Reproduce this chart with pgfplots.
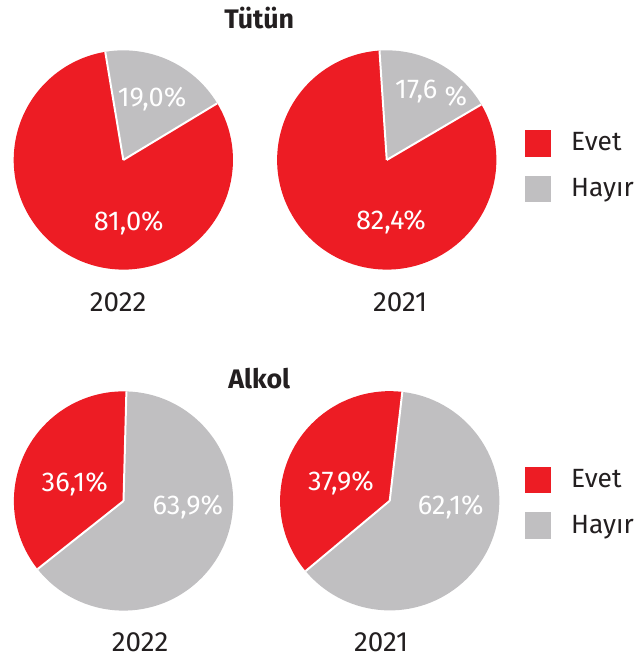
\documentclass[border=0pt]{standalone}
\usepackage{fontspec}
\setmainfont{Fira Sans}
\usepackage{pgfplots}
\pgfplotsset{compat=1.18}
\definecolor{redc}{HTML}{ED1C24}
\definecolor{grayc}{HTML}{C0BFC1}
\definecolor{textc}{HTML}{231F20}
\newcommand\R{55.25pt}
% slice: colour, start angle, percentage (drawn clockwise)
\newcommand{\slice}[3]{\fill[#1] (axis cs:0,0) -- ++(#2:\R) arc[start angle=#2, end angle={#2-3.6*#3}, radius=\R] -- cycle;}
\newcommand{\sepline}[1]{\draw[white, line width=1pt] (axis cs:0,0) -- ++(#1:\R);}
\pgfplotsset{
  pie/.style={anchor=center, x=55.25pt, y=55.25pt, xmin=-1, xmax=1, ymin=-1, ymax=1, hide axis, clip=false},
  pielegend/.style={
    legend image code/.code={\fill[##1] (0pt,-6.675pt) rectangle (13.35pt,6.675pt);},
    legend cell align=left,
    legend style={draw=none, fill=none, inner sep=0pt, row sep=9.65pt,
      font=\fontsize{13.3}{15}\selectfont, text=textc,
      nodes={inner sep=0pt},
      /tikz/every odd column/.style={column sep=10pt},
      anchor=north west},
  },
}
\begin{document}
\begin{tikzpicture}
\path (0,0) rectangle (324pt,-331pt);
% ---- Tütün ----
\node[anchor=base, font=\fontsize{13.5}{16}\selectfont\bfseries, text=textc] at (130.5pt,-11.5pt) {Tütün};
\begin{axis}[pie, at={(62pt,-78pt)}]
  \slice{grayc}{99.5}{19.0}
  \slice{redc}{31.1}{81.0}
  \sepline{99.5}
  \sepline{31.1}
\end{axis}
\begin{axis}[pie, pielegend, at={(194.75pt,-78pt)}, legend style={at={(axis description cs:1.128,0.638)}}]
  \slice{grayc}{93.8}{17.6}
  \slice{redc}{30.4}{82.4}
  \sepline{93.8}
  \sepline{30.4}
  \addlegendimage{fill=redc, draw=none}
  \addlegendentry{Evet}
  \addlegendimage{fill=grayc, draw=none}
  \addlegendentry{Hayır}
\end{axis}
\begin{scope}[every node/.style={anchor=base, text=white, font=\fontsize{13.7}{16}\selectfont}]
\node at (76.5pt,-50.85pt) {19,0\%};
\node at (64.75pt,-113.5pt) {81,0\%};
\node[anchor=base west] at (195.5pt,-47pt) {17,6 \raisebox{-3.8pt}{\%}};
\node at (196.9pt,-113pt) {82,4\%};
\end{scope}
\begin{scope}[every node/.style={anchor=base, text=textc, font=\fontsize{14}{16}\selectfont}]
\node at (59.35pt,-154.5pt) {2022};
\node at (201.5pt,-154.5pt) {2021};
\end{scope}
% ---- Alkol ----
\node[anchor=base, font=\fontsize{13.5}{16}\selectfont\bfseries, text=textc] at (130.5pt,-193pt) {Alkol};
\begin{axis}[pie, at={(62.1pt,-249.85pt)}]
  \slice{redc}{218.4}{36.1}
  \slice{grayc}{88.5}{63.9}
  \sepline{218.4}
  \sepline{88.5}
\end{axis}
\begin{axis}[pie, pielegend, at={(196.25pt,-249.75pt)}, legend style={at={(axis description cs:1.1145,0.657)}}]
  \slice{redc}{219.9}{37.9}
  \slice{grayc}{83.4}{62.1}
  \sepline{219.9}
  \sepline{83.4}
  \addlegendimage{fill=redc, draw=none}
  \addlegendentry{Evet}
  \addlegendimage{fill=grayc, draw=none}
  \addlegendentry{Hayır}
\end{axis}
\begin{scope}[every node/.style={anchor=base, text=white, font=\fontsize{13.7}{16}\selectfont}]
\node at (37.5pt,-245pt) {36,1\%};
\node at (94.5pt,-256.5pt) {63,9\%};
\node at (171.65pt,-244.5pt) {37,9\%};
\node at (227pt,-256.65pt) {62,1\%};
\end{scope}
\begin{scope}[every node/.style={anchor=base, text=textc, font=\fontsize{14}{16}\selectfont}]
\node at (70.5pt,-325.85pt) {2022};
\node at (191.9pt,-325.85pt) {2021};
\end{scope}
\end{tikzpicture}
\end{document}
